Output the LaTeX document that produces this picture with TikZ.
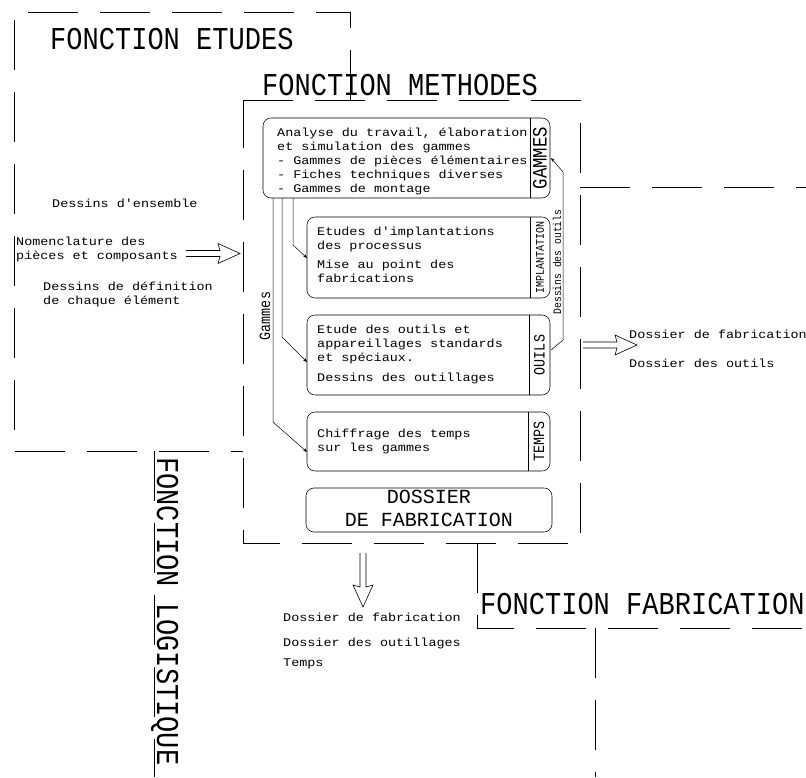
\documentclass[tikz,border=0pt]{standalone}
\usepackage{fontspec}
\newfontfamily\cad[FakeStretch=0.85]{Liberation Mono}
\newfontfamily\cadb[FakeStretch=1.15]{Liberation Mono}
\newfontfamily\cadc{Liberation Mono}
\newcommand\cadsz[1]{\cad\fontsize{#1pt}{#1pt}\selectfont}
\newcommand\cadbsz[1]{\cadb\fontsize{#1pt}{#1pt}\selectfont}
\newcommand\cadcsz[1]{\cadc\fontsize{#1pt}{#1pt}\selectfont}
\usetikzlibrary{arrows.meta,calc}
\begin{document}
\begin{tikzpicture}[x=1pt,y=-1pt,
  frame/.style={line width=0.6pt, dash pattern=on 50pt off 22pt},
  box/.style={draw, line width=0.55pt, rounded corners=8pt, anchor=north west, inner sep=0pt, outer sep=0pt},
  divider/.style={line width=0.55pt},
  conn/.style={line width=0.5pt, -{Stealth[length=4pt,width=3pt]}},
  txt/.style={anchor=base west, inner sep=0pt, font=\cadbsz{11.7}},
  ttl/.style={anchor=base west, inner sep=0pt, font=\cadsz{31.8}},
  bigarrow/.pic={\draw[line width=0.6pt] (0,-3) -- (34,-3) -- (32,-10) -- (54,0) -- (32,10) -- (34,3) -- (0,3);}
]
\useasboundingbox (0,0) rectangle (806,777);

% frames
\draw[frame] (350,100) -- (350,12) -- (14,12) -- (14,451) -- (243,451);
\draw[frame] (243,100) -- (580,100) -- (580,543) -- (243,543) -- cycle;
\draw[frame] (580,187) -- (806,187);
\draw[frame] (477,543) -- (477,628) -- (806,628);
\draw[frame] (595,628) -- (595,777);
\draw[frame] (154,451) -- (154,777);

% titles
\node[ttl] (tetu) at (50,49) {FONCTION ETUDES};
\node[ttl] (tmet) at (262,95) {FONCTION METHODES};
\node[ttl] (tfab) at (480,614) {FONCTION FABRICATION};
\node[ttl, rotate=-90] (tlog) at (157,457) {FONCTION LOGISTIQUE};

% boxes
\node[box, minimum width=287pt, minimum height=80pt] (gam) at (263,118) {};
\node[box, minimum width=243pt, minimum height=81pt] (imp) at (307,217) {};
\node[box, minimum width=243pt, minimum height=80pt] (out) at (307,315) {};
\node[box, minimum width=243pt, minimum height=59pt] (tem) at (307,412) {};
\node[box, minimum width=246pt, minimum height=44pt] (dos) at (306,488) {};

\draw[divider] ($(gam.north east)+(-20,0)$) -- ($(gam.south east)+(-20,0)$);
\draw[divider] ($(imp.north east)+(-20,0)$) -- ($(imp.south east)+(-20,0)$);
\draw[divider] ($(out.north east)+(-21,0)$) -- ($(out.south east)+(-21,0)$);
\draw[divider] ($(tem.north east)+(-22,0)$) -- ($(tem.south east)+(-22,0)$);

\node[font=\cadsz{20.4}, rotate=90, inner sep=0pt] (lgam) at ($(gam.east)+(-10,0)$) {GAMMES};
\node[font=\cadsz{11.8}, rotate=90, inner sep=0pt] (limp) at ($(imp.east)+(-10,0)$) {IMPLANTATION};
\node[font=\cadsz{15.7}, rotate=90, inner sep=0pt] (lout) at ($(out.east)+(-10.5,0)$) {OUILS};
\node[font=\cadsz{15.7}, rotate=90, inner sep=0pt] (ltem) at ($(tem.east)+(-11,0)$) {TEMPS};

% box texts
\node[txt] (g1) at (277,136) {Analyse du travail, élaboration};
\node[txt] (g2) at (277,150) {et simulation des gammes};
\node[txt] (g3) at (277,164) {- Gammes de pièces élémentaires};
\node[txt] (g4) at (277,178) {- Fiches techniques diverses};
\node[txt] (g5) at (277,192) {- Gammes de montage};

\node[txt] (i1) at (317,235) {Etudes d'implantations};
\node[txt] (i2) at (317,249) {des processus};
\node[txt] (i3) at (317,268) {Mise au point des};
\node[txt] (i4) at (317,282) {fabrications};

\node[txt] (o1) at (317,333) {Etude des outils et};
\node[txt] (o2) at (317,347) {appareillages standards};
\node[txt] (o3) at (317,361) {et spéciaux.};
\node[txt] (o4) at (317,381) {Dessins des outillages};

\node[txt] (m1) at (317,437) {Chiffrage des temps};
\node[txt] (m2) at (317,451) {sur les gammes};

\node[font=\cadcsz{20}, anchor=base, inner sep=0pt] (d1) at (429,503) {DOSSIER};
\node[font=\cadcsz{20}, anchor=base, inner sep=0pt] (d2) at (429,526) {DE FABRICATION};

% connectors
\draw[conn] ($(gam.south west)+(30,0)$) -- ++(0,47) -- ($(imp.north west)+(0,41)$);
\draw[conn] ($(gam.south west)+(19,0)$) -- ++(0,139) -- ($(out.north west)+(0,47)$);
\draw[conn] ($(gam.south west)+(10,0)$) -- ++(0,224) -- ($(tem.north west)+(0,40)$);
\node[font=\cadsz{15.7}, rotate=90, inner sep=0pt] (lgm) at (265,316) {Gammes};

\coordinate (dv1) at (563,340);
\coordinate (dv2) at (563,172);
\draw[conn] ($(out.north east)+(1,35)$) -- (dv1) -- (dv2) -- ($(gam.north east)+(1,40)$);
\node[font=\cadsz{11.4}, rotate=90, inner sep=0pt] (ldo) at (557,262) {Dessins des outils};

% outside texts
\node[txt] (t1) at (52,207) {Dessins d'ensemble};
\node[txt] (t2) at (16,245) {Nomenclature des};
\node[txt] (t3) at (16,259) {pièces et composants};
\node[txt] (t4) at (43,290) {Dessins de définition};
\node[txt] (t5) at (43,304) {de chaque élément};
\node[txt] (r1) at (629,338) {Dossier de fabrication};
\node[txt] (r2) at (629,367) {Dossier des outils};
\node[txt] (b1) at (283,621) {Dossier de fabrication};
\node[txt] (b2) at (283,646) {Dossier des outillages};
\node[txt] (b3) at (283,666) {Temps};

% big hollow arrows
\pic (ain) at (186,253.5) {bigarrow};
\pic (aout) at (583,345) {bigarrow};
\pic[rotate=-90] (adown) at (363,553) {bigarrow};
\end{tikzpicture}
\end{document}
